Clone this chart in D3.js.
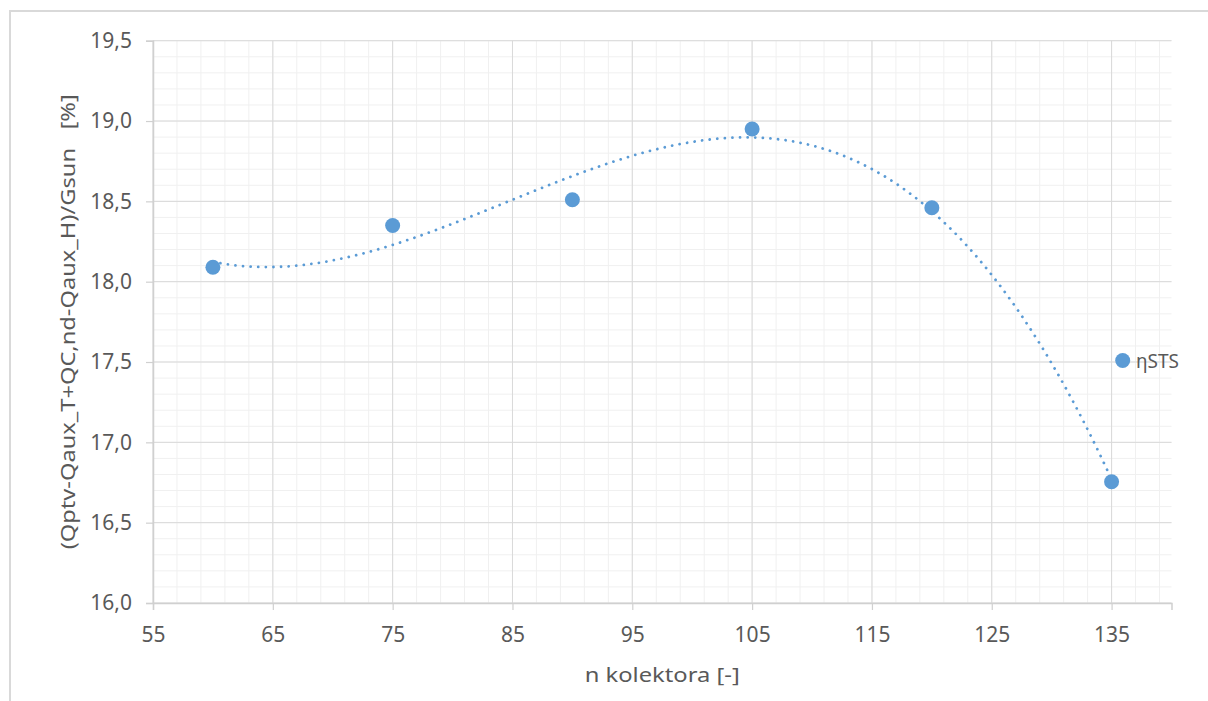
<!DOCTYPE html>
<html><head><meta charset="utf-8">
<script src="https://cdn.jsdelivr.net/npm/d3@7"></script>
<style>body{margin:0;background:#fff;}svg{display:block;}</style>
</head><body>
<svg id="c" width="1208" height="701"></svg>
<script>
const xValues = [60, 75, 90, 105, 120, 135];
const yValues = [18.09, 18.35, 18.51, 18.95, 18.46, 16.755];
const seriesName = "ηSTS";
const xTicks = [55, 65, 75, 85, 95, 105, 115, 125, 135];
const yTicks = [16.0, 16.5, 17.0, 17.5, 18.0, 18.5, 19.0, 19.5];
const xTitle = "n kolektora [-]";
const yTitle = "(Qptv-Qaux_T+QC,nd-Qaux_H)/Gsun   [%]";
const trendOrder = 3;

const svg = d3.select("#c");
const L = 153, R = 1171.5, T = 40.7, B = 603;
const x = d3.scaleLinear().domain([55, 140]).range([L, R]);
const y = d3.scaleLinear().domain([16, 19.5]).range([B, T]);
const font = "'Noto Sans', 'Open Sans', sans-serif";
const txt = "#595959";

// chart border
svg.append("rect").attr("x", 10).attr("y", 11).attr("width", 1220).attr("height", 720)
  .attr("fill", "none").attr("stroke", "#d9d9d9").attr("stroke-width", 2);

// minor grid
const xMinor = d3.range(55, 140.01, 2);
const yMinor = d3.range(16, 19.501, 0.1);
svg.append("g").selectAll("line").data(xMinor).join("line")
  .attr("x1", d => x(d)).attr("x2", d => x(d)).attr("y1", T).attr("y2", B)
  .attr("stroke", "#f0f0f0").attr("stroke-width", 1);
svg.append("g").selectAll("line").data(yMinor).join("line")
  .attr("x1", L).attr("x2", R).attr("y1", d => y(d)).attr("y2", d => y(d))
  .attr("stroke", "#f0f0f0").attr("stroke-width", 1);
// major grid
svg.append("g").selectAll("line").data(xTicks).join("line")
  .attr("x1", d => x(d)).attr("x2", d => x(d)).attr("y1", T).attr("y2", B)
  .attr("stroke", "#d9d9d9").attr("stroke-width", 1);
svg.append("g").selectAll("line").data(yTicks).join("line")
  .attr("x1", L).attr("x2", R).attr("y1", d => y(d)).attr("y2", d => y(d))
  .attr("stroke", "#d9d9d9").attr("stroke-width", 1);

// axes
const fmt = d => d3.format(".1f")(d).replace(".", ",");
const yAxis = svg.append("g").attr("transform", `translate(${L},0)`)
  .call(d3.axisLeft(y).tickValues(yTicks).tickFormat(fmt).tickSize(7).tickPadding(14));
const xAxis = svg.append("g").attr("transform", `translate(0,${B})`)
  .call(d3.axisBottom(x).tickValues(xTicks).tickFormat(d3.format("d")).tickSize(7).tickPadding(17));
[xAxis, yAxis].forEach(g => {
  g.select(".domain").attr("stroke", "#d0d0d0").attr("stroke-width", 1.5);
  g.selectAll(".tick line").attr("stroke", "#d0d0d0").attr("stroke-width", 1.2);
  g.selectAll("text").attr("fill", txt).attr("font-family", font).attr("font-size", 21);
});

// axis titles
svg.append("text").attr("x", (L + R) / 2).attr("y", 682).attr("text-anchor", "middle")
  .attr("fill", txt).attr("font-family", font).attr("font-size", 20.5)
  .attr("textLength", 155).attr("lengthAdjust", "spacingAndGlyphs").text(xTitle);
svg.append("text").attr("transform", `translate(75,${(T + B) / 2}) rotate(-90)`)
  .attr("text-anchor", "middle").attr("fill", txt).attr("font-family", font)
  .attr("font-size", 20.5).attr("xml:space", "preserve").style("white-space", "pre")
  .attr("textLength", 455).attr("lengthAdjust", "spacingAndGlyphs").text(yTitle);

// polynomial trendline (least squares)
function polyfit(xs, ys, n) {
  const m = n + 1, A = [], b = [];
  for (let i = 0; i < m; i++) {
    A.push(new Array(m).fill(0)); b.push(0);
  }
  xs.forEach((xv, k) => {
    const t = (xv - 97.5) / 37.5;
    for (let i = 0; i < m; i++) {
      b[i] += ys[k] * Math.pow(t, i);
      for (let j = 0; j < m; j++) A[i][j] += Math.pow(t, i + j);
    }
  });
  for (let i = 0; i < m; i++) {
    let p = i;
    for (let r = i + 1; r < m; r++) if (Math.abs(A[r][i]) > Math.abs(A[p][i])) p = r;
    [A[i], A[p]] = [A[p], A[i]]; [b[i], b[p]] = [b[p], b[i]];
    for (let r = i + 1; r < m; r++) {
      const f = A[r][i] / A[i][i];
      for (let c = i; c < m; c++) A[r][c] -= f * A[i][c];
      b[r] -= f * b[i];
    }
  }
  const c = new Array(m).fill(0);
  for (let i = m - 1; i >= 0; i--) {
    let s = b[i];
    for (let j = i + 1; j < m; j++) s -= A[i][j] * c[j];
    c[i] = s / A[i][i];
  }
  return xv => { const t = (xv - 97.5) / 37.5; return c.reduce((s, ci, i) => s + ci * Math.pow(t, i), 0); };
}
const f = polyfit(xValues, yValues, trendOrder);
const xs = d3.range(d3.min(xValues), d3.max(xValues) + 0.001, 0.25);
svg.append("path").datum(xs)
  .attr("d", d3.line().x(d => x(d)).y(d => y(f(d))))
  .attr("fill", "none").attr("stroke", "#5B9BD5").attr("stroke-width", 2.8)
  .attr("stroke-linecap", "round").attr("stroke-dasharray", "0.01 7.6");

// points
svg.append("g").selectAll("circle").data(xValues).join("circle")
  .attr("cx", d => x(d)).attr("cy", (d, i) => y(yValues[i])).attr("r", 7.5)
  .attr("fill", "#5B9BD5");

// legend
svg.append("circle").attr("cx", 1122.7).attr("cy", 360.5).attr("r", 7.5).attr("fill", "#5B9BD5");
svg.append("text").attr("x", 1136).attr("y", 367.5).attr("fill", txt).attr("font-family", font)
  .attr("font-size", 19).text(seriesName);
</script>
</body></html>
